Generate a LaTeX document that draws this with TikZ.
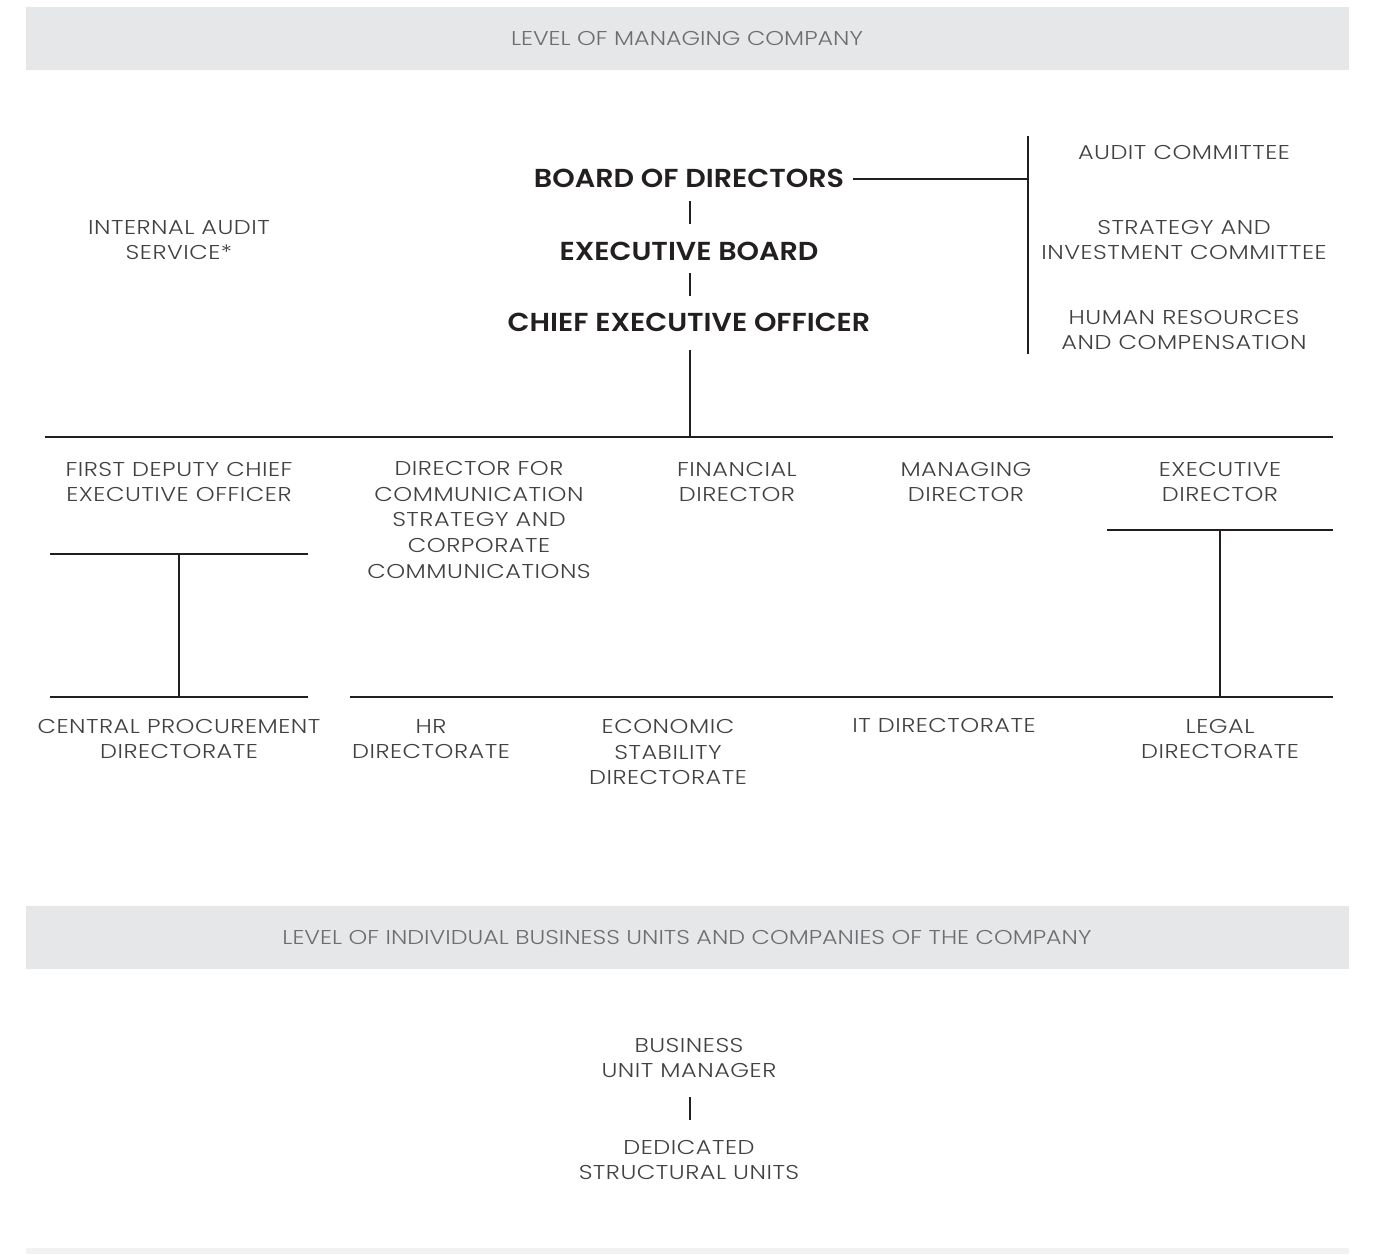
\documentclass[tikz,border=0pt]{standalone}
\usepackage{fontspec}
\setmainfont{Poppins}[UprightFont=* Light, BoldFont=* SemiBold]
\newfontfamily\bodyfont{Poppins}[UprightFont=* Light, FakeStretch=1.2, LetterSpace=2.5]
\newfontfamily\bandfont{Poppins}[UprightFont=* Light, FakeStretch=1.19]
\newfontfamily\headfont{Poppins}[UprightFont=* SemiBold, FakeStretch=1.1]
\definecolor{bandgray}{HTML}{E6E7E8}
\definecolor{bandlight}{HTML}{F1F2F4}
\definecolor{bandtext}{HTML}{6D6E71}
\definecolor{bodytext}{HTML}{414042}
\definecolor{linecol}{HTML}{231F20}
\tikzset{
  lbl/.style={align=center, text=bodytext, font=\bodyfont\fontsize{20}{25.8}\selectfont, inner sep=0pt},
  head/.style={align=center, text=linecol, font=\headfont\fontsize{26}{30}\selectfont, inner sep=0pt},
  bandlbl/.style={text=bandtext, font=\bandfont\fontsize{20}{24}\selectfont, inner sep=0pt},
  conn/.style={draw=linecol, line width=1.8pt},
}
\begin{document}
\begin{tikzpicture}[x=1pt, y=-1pt]
\useasboundingbox (0,0) rectangle (1392,1254);
% bands
\fill[bandgray] (26,7) rectangle (1349,70);
\fill[bandgray] (26,906) rectangle (1349,969);
\fill[bandlight] (26,1248) rectangle (1349,1254);
\node[bandlbl] (lvl1) at (687,38) {LEVEL OF MANAGING COMPANY};
\node[bandlbl] (lvl2) at (687,937) {LEVEL OF INDIVIDUAL BUSINESS UNITS AND COMPANIES OF THE COMPANY};

% top management
\node[head] (bod) at (689,178) {BOARD OF DIRECTORS};
\node[head] (eb) at (689,251) {EXECUTIVE BOARD};
\node[head] (ceo) at (689,322) {CHIEF EXECUTIVE OFFICER};
\node[lbl] (ias) at (179,240) {INTERNAL AUDIT\\SERVICE*};

% committees
\node[lbl] (ac) at (1184,152) {AUDIT COMMITTEE};
\node[lbl] (sic) at (1184,240) {STRATEGY AND\\INVESTMENT COMMITTEE};
\node[lbl] (hrc) at (1184,330) {HUMAN RESOURCES\\AND COMPENSATION};
\coordinate (ctop) at (1028,136);
\coordinate (cbot) at (1028,354);
\coordinate (cmid) at (1028,179);
\coordinate (bodr) at (853,179);
\draw[conn] (ctop) -- (cbot);
\draw[conn] (bodr) -- (cmid);

% vertical ticks
\coordinate (t1a) at (690,201); \coordinate (t1b) at (690,224);
\coordinate (t2a) at (690,273); \coordinate (t2b) at (690,296);
\draw[conn] (t1a) -- (t1b);
\draw[conn] (t2a) -- (t2b);
\coordinate (ceod) at (690,350);
\coordinate (busc) at (690,437);
\draw[conn] (ceod) -- (busc);
\coordinate (busl) at (45,437);
\coordinate (busr) at (1333,437);
\draw[conn] (busl) -- (busr);

% directors
\node[lbl] (fdceo) at (179,482) {FIRST DEPUTY CHIEF\\EXECUTIVE OFFICER};
\node[lbl, anchor=north] (dcomm) at (479,461) {DIRECTOR FOR\\COMMUNICATION\\STRATEGY AND\\CORPORATE\\COMMUNICATIONS};
\node[lbl] (fin) at (737,482) {FINANCIAL\\DIRECTOR};
\node[lbl] (mng) at (966,482) {MANAGING\\DIRECTOR};
\node[lbl] (exd) at (1220,482) {EXECUTIVE\\DIRECTOR};

% left T
\coordinate (lt1) at (50,554); \coordinate (lt2) at (308,554);
\coordinate (ltc) at (179,554); \coordinate (lbc) at (179,697);
\coordinate (lb1) at (50,697); \coordinate (lb2) at (308,697);
\draw[conn] (lt1) -- (lt2);
\draw[conn] (ltc) -- (lbc);
\draw[conn] (lb1) -- (lb2);

% right T
\coordinate (rt1) at (1107,530); \coordinate (rt2) at (1333,530);
\coordinate (rtc) at (1220,530); \coordinate (rbc) at (1220,697);
\coordinate (rb1) at (350,697); \coordinate (rb2) at (1333,697);
\draw[conn] (rt1) -- (rt2);
\draw[conn] (rtc) -- (rbc);
\draw[conn] (rb1) -- (rb2);

% directorates
\node[lbl] (cpd) at (179,739) {CENTRAL PROCUREMENT\\DIRECTORATE};
\node[lbl] (hrd) at (431,739) {HR\\DIRECTORATE};
\node[lbl, anchor=north] (esd) at (668,719) {ECONOMIC\\STABILITY\\DIRECTORATE};
\node[lbl] (itd) at (944,725) {IT DIRECTORATE};
\node[lbl] (lgd) at (1220,739) {LEGAL\\DIRECTORATE};

% business unit level
\node[lbl] (bum) at (689,1058) {BUSINESS\\UNIT MANAGER};
\node[lbl] (dsu) at (689,1160) {DEDICATED\\STRUCTURAL UNITS};
\coordinate (b1) at (690,1097); \coordinate (b2) at (690,1120);
\draw[conn] (b1) -- (b2);
\end{tikzpicture}
\end{document}
